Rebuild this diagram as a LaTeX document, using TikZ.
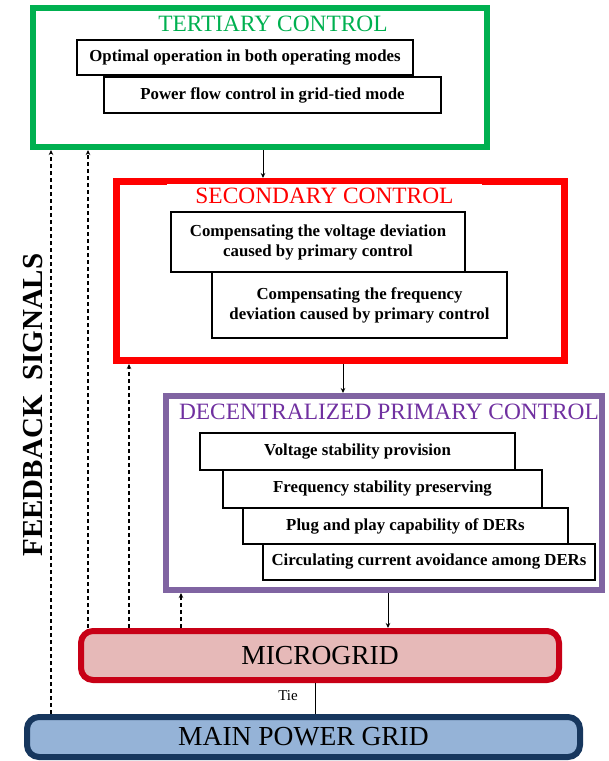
\documentclass[tikz,border=0pt]{standalone}
\usepackage{fontspec}
\setmainfont{Liberation Serif}
\usetikzlibrary{arrows.meta}
\definecolor{tertgreen}{RGB}{0,176,80}
\definecolor{secred}{RGB}{255,0,0}
\definecolor{primframe}{RGB}{128,100,162}
\definecolor{primtext}{RGB}{112,48,160}
\definecolor{mgborder}{RGB}{200,0,22}
\definecolor{mgfill}{RGB}{230,185,184}
\definecolor{gridborder}{RGB}{23,55,94}
\definecolor{gridfill}{RGB}{149,179,215}
\tikzset{
  level/.style={
    draw,
    line width=6pt,
    inner sep=0pt
  },
  task/.style={
    draw,
    line width=1.1pt,
    fill=white,
    align=center,
    inner sep=0pt,
    font=\bfseries\fontsize{16.8}{20}\selectfont
  },
  heading/.style={
    inner sep=0pt,
    font=\fontsize{23.4}{26}\selectfont
  },
  gridbox/.style={
    draw,
    line width=6pt,
    rounded corners=12pt,
    inner sep=0pt,
    font=\fontsize{27.5}{30}\selectfont
  },
  down/.style={
    -{Stealth[length=5pt,width=4.5pt]},
    line width=0.9pt
  },
  feedback/.style={
    -{Stealth[length=5pt,width=4.5pt]},
    line width=1.1pt,
    dash pattern=on 4pt off 3pt
  }
}

\begin{document}
\begin{tikzpicture}[x=1pt,y=-1pt]
  \useasboundingbox (0,0) rectangle (609,761);

  % tertiary level
  \node[level, draw=tertgreen, minimum width=454pt, minimum height=139pt] (tert) at (260,77.5) {};
  \node[heading, text=tertgreen] (tertTitle) at (273,23.5) {TERTIARY CONTROL};
  \node[task, minimum width=336pt, minimum height=35pt] (t1) at (245,57.5) {Optimal operation in both operating modes};
  \node[task, minimum width=337pt, minimum height=36pt] (t2) at (272.5,95) {Power flow control in grid-tied mode};

  % secondary level
  \node[level, line width=7pt, draw=secred, minimum width=448pt, minimum height=179pt] (sec) at (340.5,271) {};
  \node[heading, text=secred, fill=white, minimum width=315pt, minimum height=24pt] (secTitle) at (324.5,195.5) {SECONDARY CONTROL};
  \node[task, minimum width=294pt, minimum height=60pt] (s1) at (318,242) {Compensating the voltage deviation\\caused by primary control};
  \node[task, minimum width=295pt, minimum height=66pt] (s2) at (359.5,305) {Compensating the frequency\\deviation caused by primary control};

  % primary level
  \node[level, draw=primframe, minimum width=436pt, minimum height=194pt] (prim) at (384,493) {};
  \node[heading, text=primtext] (primTitle) at (389,412) {DECENTRALIZED PRIMARY CONTROL};
  \node[task, minimum width=315pt, minimum height=37pt] (p1) at (357.5,451.5) {Voltage stability provision};
  \node[task, minimum width=319pt, minimum height=38pt] (p2) at (382.5,489) {Frequency stability preserving};
  \node[task, minimum width=325pt, minimum height=36pt] (p3) at (405.5,526) {Plug and play capability of DERs};
  \node[task, minimum width=332pt, minimum height=36pt] (p4) at (429,562) {Circulating current avoidance among DERs};

  % grids
  \node[gridbox, draw=mgborder, fill=mgfill, minimum width=478pt, minimum height=49pt] (micro) at (320,655.5) {MICROGRID};
  \node[gridbox, draw=gridborder, fill=gridfill, minimum width=553pt, minimum height=40pt] (main) at (303.5,737) {MAIN POWER GRID};
  \node[font=\fontsize{15}{16}\selectfont] (tieLabel) at (288,696) {Tie};

  \node[rotate=90, font=\bfseries\fontsize{29}{30}\selectfont] (fbLabel) at (33,405) {FEEDBACK\ \ SIGNALS};

  \coordinate (fbA) at (51,0);
  \coordinate (fbB) at (88,0);
  \coordinate (fbC) at (129,0);
  \coordinate (fbD) at (181,0);
  \coordinate (dnA) at (263,0);
  \coordinate (dnB) at (343,0);
  \coordinate (dnC) at (388,0);
  \coordinate (tie) at (315,0);

  \draw[down] (tert.south -| dnA) -- (sec.north -| dnA);
  \draw[down] (sec.south -| dnB) -- (prim.north -| dnB);
  \draw[down] (prim.south -| dnC) -- (micro.north -| dnC);
  \draw[line width=1pt] (micro.south -| tie) -- (main.north -| tie);

  \draw[feedback] (main.north -| fbA) -- (tert.south -| fbA);
  \draw[feedback] (micro.north -| fbB) -- (tert.south -| fbB);
  \draw[feedback] (micro.north -| fbC) -- (sec.south -| fbC);
  \draw[feedback] (micro.north -| fbD) -- (prim.south -| fbD);
\end{tikzpicture}
\end{document}
